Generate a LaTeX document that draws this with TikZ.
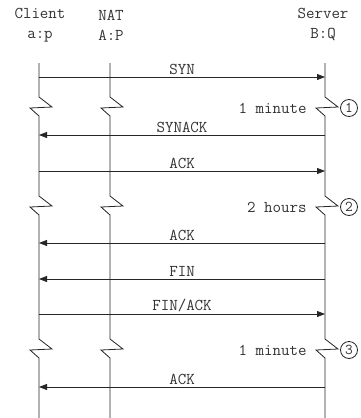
\documentclass[tikz,border=0pt]{standalone}
\usepackage{fontspec}
\usetikzlibrary{arrows.meta}
\tikzset{
  hdr/.style={align=center,text=black!80,font=\ttfamily\fontsize{16.5}{20}\selectfont},
  lbl/.style={above,inner sep=2pt,text=black!80,font=\ttfamily\fontsize{16.5}{18}\selectfont},
  tmr/.style={anchor=east,inner sep=2pt,text=black!80,font=\ttfamily\fontsize{16.5}{18}\selectfont},
  num/.style={circle,draw,minimum size=17pt,inner sep=0pt,text=black!80,font=\ttfamily\fontsize{15}{15}\selectfont},
  msg/.style={-{Triangle[length=8pt,width=6pt]}},
}
\begin{document}
\begin{tikzpicture}[x=1pt,y=-1pt,line width=0.8pt,draw=black!85]
        \useasboundingbox (0,0) rectangle (360,418);
        % hosts
        \node[hdr] (client) at (40,25) {Client\\a:p};
        \node[hdr] (nat) at (111,25) {NAT\\A:P};
        \node[hdr] (server) at (323,25) {Server\\B:Q};
        \coordinate (ctop) at (39,63);
        \coordinate (ntop) at (110,63);
        \coordinate (stop) at (325,63);
        \coordinate (cbot) at (39,418);
        \coordinate (nbot) at (110,418);
        \coordinate (sbot) at (325,418);
        % lifelines with breaks
        \draw (ctop) -- ++(0,34) -- ++(13,10) -- ++(-22,1) -- ++(9,8)
          -- ++(0,80) -- ++(13,10) -- ++(-22,1) -- ++(9,8)
          -- ++(0,124) -- ++(13,10) -- ++(-22,1) -- ++(9,8) -- (cbot);
        \draw (ntop) -- ++(0,34) -- ++(13,10) -- ++(-22,1) -- ++(9,8)
          -- ++(0,80) -- ++(13,10) -- ++(-22,1) -- ++(9,8)
          -- ++(0,124) -- ++(13,10) -- ++(-22,1) -- ++(9,8) -- (nbot);
        \draw (stop) -- ++(0,34) -- ++(13,10) -- ++(-22,1) -- ++(9,8)
          -- ++(0,80) -- ++(13,10) -- ++(-22,1) -- ++(9,8)
          -- ++(0,124) -- ++(13,10) -- ++(-22,1) -- ++(9,8) -- (sbot);
        % messages
        \coordinate (c1) at (39,77);
        \coordinate (c2) at (39,135);
        \coordinate (c3) at (39,171);
        \coordinate (c4) at (39,243);
        \coordinate (c5) at (39,279);
        \coordinate (c6) at (39,314);
        \coordinate (c7) at (39,387);
        \draw[msg] (c1) -- node[lbl]{SYN} (c1 -| stop);
        \draw[msg] (c2 -| stop) -- node[lbl]{SYNACK} (c2);
        \draw[msg] (c3) -- node[lbl]{ACK} (c3 -| stop);
        \draw[msg] (c4 -| stop) -- node[lbl]{ACK} (c4);
        \draw[msg] (c5 -| stop) -- node[lbl]{FIN} (c5);
        \draw[msg] (c6) -- node[lbl]{FIN/ACK} (c6 -| stop);
        \draw[msg] (c7 -| stop) -- node[lbl]{ACK} (c7);
        % timeouts
        \node[tmr] (t1) at (309,108) {1 minute};
        \node[tmr] (t2) at (309,207) {2 hours};
        \node[tmr] (t3) at (309,350) {1 minute};
        \node[num] (m1) at (349,108) {1};
        \node[num] (m2) at (349,207) {2};
        \node[num] (m3) at (349,350) {3};
\end{tikzpicture}
\end{document}
